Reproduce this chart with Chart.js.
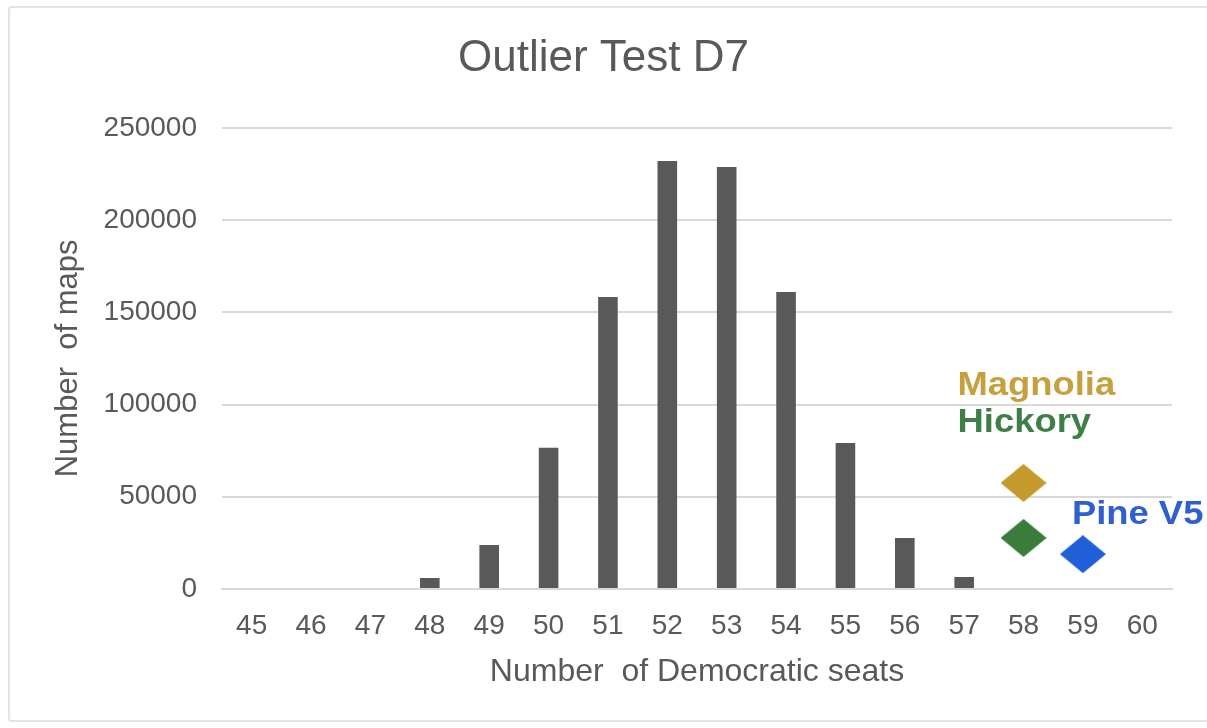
<!DOCTYPE html>
<html><head><meta charset="utf-8">
<script src="https://cdn.jsdelivr.net/npm/chart.js@4.4.1/dist/chart.umd.min.js"></script>
<style>
html,body{margin:0;padding:0;background:#fff;}
#wrap{position:relative;width:1207px;height:728px;overflow:hidden;}
#frame{position:absolute;left:8px;top:6px;width:1210px;height:712px;border:2px solid #e3e3e3;border-radius:4px;}
canvas{position:absolute;left:0;top:0;}
</style></head>
<body><div id="wrap"><div id="frame"></div><canvas id="c" width="1207" height="728"></canvas></div>
<script>
const titleText = 'Outlier Test D7';
const xTitle = 'Number  of Democratic seats';
const yTitle = 'Number  of maps';
const seats = ['45','46','47','48','49','50','51','52','53','54','55','56','57','58','59','60'];
const maps = [0,0,0,6000,23900,76500,158300,232000,228800,161000,79200,27600,6500,0,0,0];
const magnolia = [null,null,null,null,null,null,null,null,null,null,null,null,null,57500,null,null];
const hickory  = [null,null,null,null,null,null,null,null,null,null,null,null,null,27700,null,null];
const pineV5   = [null,null,null,null,null,null,null,null,null,null,null,null,null,null,18900,null];
const yTicks = [0,50000,100000,150000,200000,250000];
const seriesNames = ['Magnolia','Hickory','Pine V5'];

const GRAY = '#595959';
function diamond(color,w,h){
  const c=document.createElement('canvas');c.width=w;c.height=h;
  const g=c.getContext('2d');g.fillStyle=color;g.beginPath();
  g.moveTo(w/2,0);g.lineTo(w,h/2);g.lineTo(w/2,h);g.lineTo(0,h/2);g.closePath();g.fill();
  return c;
}
const styles = {
  'Magnolia': {point:'#C49A2C', text:'#C6A03E', dx:-66, dy:-97},
  'Hickory':  {point:'#3A7D3A', text:'#3E7F48', dx:-66, dy:-115},
  'Pine V5':  {point:'#1F5FD9', text:'#2E60D0', dx:-11, dy:-40}
};
const FONT = "'Liberation Sans', Arial, Helvetica, sans-serif";

const labelPlugin = {
  id:'seriesLabels',
  afterDatasetsDraw(chart){
    const ctx = chart.ctx;
    chart.data.datasets.forEach((ds,i)=>{
      const st = styles[ds.label];
      if(!st) return;
      const meta = chart.getDatasetMeta(i);
      const idx = ds.data.findIndex(v=>v!==null);
      const el = meta.data[idx];
      if(!el) return;
      ctx.save();
      ctx.font = "bold 34px " + FONT;
      ctx.fillStyle = st.text;
      ctx.textAlign = 'left';
      ctx.textBaseline = 'middle';
      ctx.translate(el.x + st.dx, el.y + st.dy);
      ctx.scale(1.07,1);
      ctx.fillText(ds.label, 0, 0);
      ctx.restore();
    });
  }
};

const pointDs = (name, data) => ({
  type:'line', label:name, data:data, showLine:false,
  pointStyle: diamond(styles[name].point, 46, 38),
  pointRadius: 20, pointHoverRadius: 20,
  backgroundColor: styles[name].point, borderColor: styles[name].point
});

new Chart(document.getElementById('c'), {
  type:'bar',
  data:{
    labels: seats,
    datasets:[
      pointDs(seriesNames[0], magnolia),
      pointDs(seriesNames[1], hickory),
      pointDs(seriesNames[2], pineV5),
      {type:'bar', label:'Maps', data:maps, backgroundColor:GRAY, barPercentage:0.33, categoryPercentage:1, yAxisID:'y'}
    ]
  },
  options:{
    responsive:false, animation:false,
    layout:{padding:{left:0,right:0,top:0,bottom:0}},
    plugins:{
      legend:{display:false}, tooltip:{enabled:false},
      title:{display:true, text:titleText, color:GRAY,
        font:{family:FONT, size:44, weight:'normal'}, padding:{top:32,bottom:43}}
    },
    scales:{
      x:{
        grid:{display:false, drawTicks:false},
        border:{display:true, color:'#d9d9d9', width:2},
        ticks:{color:GRAY, font:{family:FONT,size:28}, padding:20, maxRotation:0, autoSkip:false},
        title:{display:true, text:xTitle, color:GRAY, font:{family:FONT,size:32}, padding:{top:0,bottom:37}},
        afterFit(s){ s.height = 139; }
      },
      y:{
        min:0, max:250000,
        grid:{color:'#d9d9d9', lineWidth:2, drawTicks:false},
        border:{display:false},
        ticks:{color:GRAY, font:{family:FONT,size:28}, padding:25, callback:v=>String(v)},
        afterBuildTicks(s){ s.ticks = yTicks.map(v=>({value:v})); },
        title:{display:true, text:yTitle, color:GRAY, font:{family:FONT,size:31}, padding:{top:50,bottom:0}},
        afterFit(s){ s.width = 222; }
      },
      spacer:{
        position:'right', display:true, min:0, max:1,
        grid:{display:false, drawTicks:false}, border:{display:false},
        ticks:{display:false},
        afterFit(s){ s.width = 35; }
      }
    }
  },
  plugins:[labelPlugin]
});
</script>
</body></html>
